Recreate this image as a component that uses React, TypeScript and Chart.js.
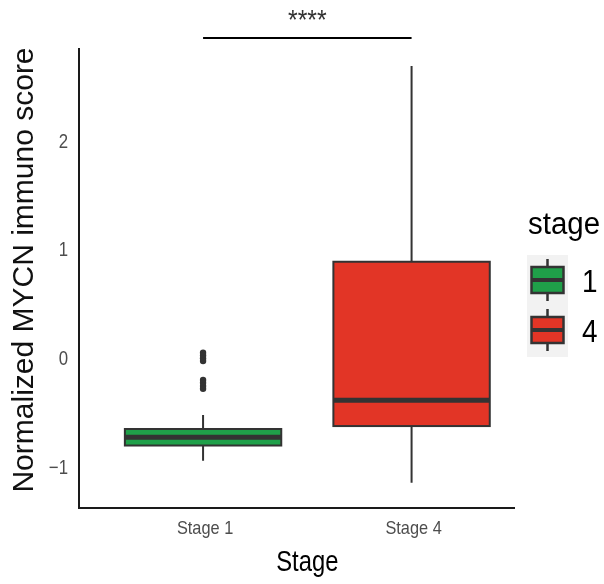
import React, { useEffect, useRef } from "react";
import { Chart, registerables } from "chart.js";

Chart.register(...registerables);

// ---- data ----
const CATEGORIES = ["Stage 1", "Stage 4"];
const LEGEND_TITLE = "stage";
const LEGEND_LABELS = ["1", "4"];
const WHISKER_LOW = [-0.933, -1.136];
const Q1 = [-0.793, -0.614];
const MEDIAN = [-0.718, -0.377];
const Q3 = [-0.641, 0.898];
const WHISKER_HIGH = [-0.513, 2.699];
const OUTLIERS_STAGE1 = [0.06, 0.035, 0.01, -0.015, -0.19, -0.215, -0.245, -0.27];
const Y_TICKS = [-1, 0, 1, 2];
const Y_TICK_LABELS = ["\u22121", "0", "1", "2"];
const X_TITLE = "Stage";
const Y_TITLE = "Normalized MYCN immuno score";
const SIGNIF_LABEL = "****";

// ---- styles ----
const FILLS = ["#1FA049", "#E23526"];
const LINE = "#333333";
const BOX_W = 0.75;
const FONT = "'Liberation Sans', Arial, sans-serif";

function txt(
  ctx: CanvasRenderingContext2D,
  s: string,
  x: number,
  y: number,
  size: number,
  sx: number,
  align: CanvasTextAlign,
  color: string,
  baseline: CanvasTextBaseline = "middle"
) {
  ctx.save();
  ctx.translate(x, y);
  ctx.scale(sx, 1);
  ctx.font = `${size}px ${FONT}`;
  ctx.textAlign = align;
  ctx.textBaseline = baseline;
  ctx.fillStyle = color;
  ctx.fillText(s, 0, 0);
  ctx.restore();
}

function drawBox(
  ctx: CanvasRenderingContext2D,
  cx: number,
  half: number,
  yLow: number,
  yQ1: number,
  yMed: number,
  yQ3: number,
  yHigh: number,
  fill: string,
  lw: number,
  medW: number
) {
  ctx.save();
  ctx.strokeStyle = LINE;
  ctx.lineWidth = lw;
  ctx.beginPath();
  ctx.moveTo(cx, yHigh);
  ctx.lineTo(cx, yQ3);
  ctx.moveTo(cx, yQ1);
  ctx.lineTo(cx, yLow);
  ctx.stroke();
  ctx.fillStyle = fill;
  ctx.fillRect(cx - half, yQ3, half * 2, yQ1 - yQ3);
  ctx.strokeRect(cx - half, yQ3, half * 2, yQ1 - yQ3);
  ctx.lineWidth = medW;
  ctx.beginPath();
  ctx.moveTo(cx - half, yMed);
  ctx.lineTo(cx + half, yMed);
  ctx.stroke();
  ctx.restore();
}

const boxPlugin = {
  id: "boxes",
  beforeDatasetsDraw(chart: any) {
    const { ctx, scales } = chart;
    const x = scales.x;
    const y = scales.y;
    CATEGORIES.forEach((_, i) => {
      const cx = x.getPixelForValue(i + 1);
      const half = x.getPixelForValue(i + 1 + BOX_W / 2) - cx;
      drawBox(
        ctx,
        cx,
        half,
        y.getPixelForValue(WHISKER_LOW[i]),
        y.getPixelForValue(Q1[i]),
        y.getPixelForValue(MEDIAN[i]),
        y.getPixelForValue(Q3[i]),
        y.getPixelForValue(WHISKER_HIGH[i]),
        FILLS[i],
        2,
        5
      );
    });
  },
  afterDraw(chart: any) {
    const { ctx, scales, chartArea } = chart;
    const x = scales.x;
    const y = scales.y;
    const { left, right, top, bottom } = chartArea;

    // axis lines
    ctx.save();
    ctx.strokeStyle = "#1a1a1a";
    ctx.lineWidth = 2;
    ctx.beginPath();
    ctx.moveTo(left, top);
    ctx.lineTo(left, bottom);
    ctx.lineTo(right, bottom);
    ctx.stroke();
    ctx.restore();

    // y tick labels
    Y_TICKS.forEach((v, i) => {
      txt(ctx, Y_TICK_LABELS[i], left - 11, y.getPixelForValue(v), 20, 0.84, "right", "#4D4D4D");
    });
    // x tick labels
    CATEGORIES.forEach((c, i) => {
      txt(ctx, c, x.getPixelForValue(i + 1) + 2, bottom + 21, 19, 0.86, "center", "#4D4D4D");
    });
    // x title
    txt(ctx, X_TITLE, x.getPixelForValue(1.5), bottom + 55, 29, 0.82, "center", "#000");
    // y title
    ctx.save();
    ctx.translate(33, 270);
    ctx.rotate(-Math.PI / 2);
    ctx.font = `30px ${FONT}`;
    ctx.textAlign = "center";
    ctx.textBaseline = "alphabetic";
    ctx.fillStyle = "#111";
    ctx.fillText(Y_TITLE, 0, 0);
    ctx.restore();

    // significance bracket
    const x1 = x.getPixelForValue(1);
    const x2 = x.getPixelForValue(2);
    ctx.save();
    ctx.strokeStyle = "#000";
    ctx.lineWidth = 2;
    ctx.beginPath();
    ctx.moveTo(x1, top - 10);
    ctx.lineTo(x2, top - 10);
    ctx.stroke();
    ctx.restore();
    txt(ctx, SIGNIF_LABEL, (x1 + x2) / 2, top - 19, 27, 0.92, "center", "#333", "alphabetic");

    // legend
    const lx = 527;
    ctx.save();
    ctx.fillStyle = "#F2F2F2";
    ctx.fillRect(lx, 255, 41, 102);
    ctx.restore();
    txt(ctx, LEGEND_TITLE, 528, 234, 31, 0.95, "left", "#000", "alphabetic");
    LEGEND_LABELS.forEach((lab, i) => {
      const cy = 280 + i * 50;
      drawBox(ctx, lx + 20.5, 16, cy + 21, cy + 13, cy, cy - 13, cy - 21, FILLS[i], 2.5, 4);
      txt(ctx, lab, 582, cy + 3, 31, 0.9, "left", "#000");
    });
  },
};

export default function App() {
  const ref = useRef<HTMLCanvasElement>(null);
  useEffect(() => {
    if (!ref.current) return;
    const chart = new Chart(ref.current, {
      type: "scatter",
      data: {
        datasets: [
          {
            label: CATEGORIES[0],
            data: OUTLIERS_STAGE1.map((v) => ({ x: 1, y: v })),
            pointRadius: 3.2,
            pointBackgroundColor: LINE,
            pointBorderWidth: 0,
          },
        ],
      },
      options: {
        animation: false,
        responsive: false,
        devicePixelRatio: 1,
        layout: { padding: { left: 79, top: 48, right: 89, bottom: 76 } },
        plugins: { legend: { display: false }, tooltip: { enabled: false } },
        scales: {
          x: { type: "linear", min: 0.405, max: 2.496, display: false },
          y: { type: "linear", min: -1.368, max: 2.865, display: false },
        },
      },
      plugins: [boxPlugin],
    });
    return () => chart.destroy();
  }, []);
  return (
    <div style={{ position: "fixed", left: 0, top: 0, width: 604, height: 584, background: "#fff" }}>
      <canvas ref={ref} width={604} height={584} />
    </div>
  );
}
